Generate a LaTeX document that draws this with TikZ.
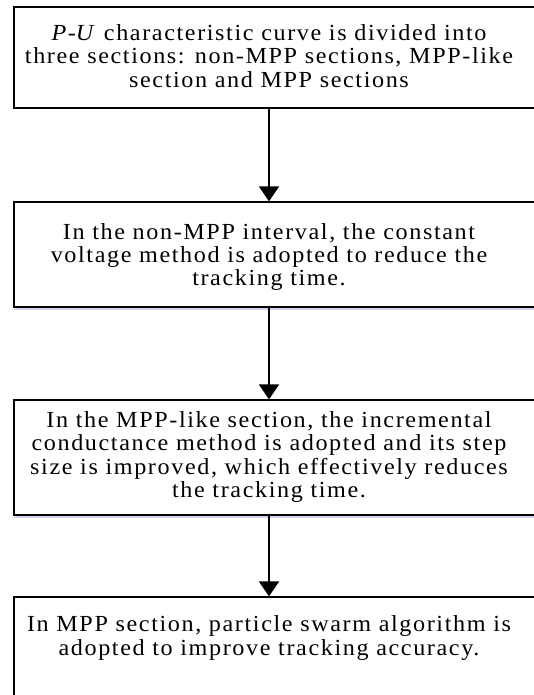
\documentclass[tikz,border=0pt]{standalone}
\usepackage{fontspec}
\setmainfont{Liberation Serif}
\usetikzlibrary{arrows.meta, positioning, shadows}

\tikzset{
  stepframe/.style={draw=black, line width=1.3pt, minimum width=531pt, fill=white},
  softshadow/.style={drop shadow={shadow xshift=0pt, shadow yshift=-3pt, fill=blue!40!gray, opacity=0.25}},
  steptext/.style={align=center, inner sep=0pt,
    font=\fontsize{23}{23.5}\selectfont\addfontfeature{FakeStretch=1.05, LetterSpace=7}},
  flowarrow/.style={-{Triangle[length=15pt, width=20pt]}, line width=2pt}
}

\begin{document}
\begin{tikzpicture}[x=1pt, y=-1pt]
  \useasboundingbox (0,0) rectangle (533,695);

  % frames, cut off at the right and at the bottom
  \node[stepframe, minimum height=101pt] (F1) at (279.5,57.5) {};
  \node[stepframe, softshadow, minimum height=105pt] (F2) at (279.5,254.5) {};
  \node[stepframe, softshadow, minimum height=115pt] (F3) at (279.5,457.5) {};
  \node[stepframe, minimum height=118pt] (F4) at (279.5,656) {};

  % texts
  \node[steptext] (T1) at (269,56) {\textit{P}-\textit{U} characteristic curve is divided into\\
    three sections: non-MPP sections, MPP-like\\ section and MPP sections};
  \node[steptext] (T2) at (269,257) {In the non-MPP interval, the constant\\
    voltage method is adopted to reduce the\\ tracking time.};
  \node[steptext] (T3) at (269,457) {In the MPP-like section, the incremental\\
    conductance method is adopted and its step\\
    size is improved, which effectively reduces\\ the tracking time.};
  \node[steptext] (T4) at (269,638) {In MPP section, particle swarm algorithm is\\
    adopted to improve tracking accuracy.};

  % arrows between the frames
  \draw[flowarrow] (T1 |- F1.south) -- (T1 |- F2.north);
  \draw[flowarrow] (T2 |- F2.south) -- (T2 |- F3.north);
  \draw[flowarrow] (T3 |- F3.south) -- (T3 |- F4.north);
\end{tikzpicture}
\end{document}
